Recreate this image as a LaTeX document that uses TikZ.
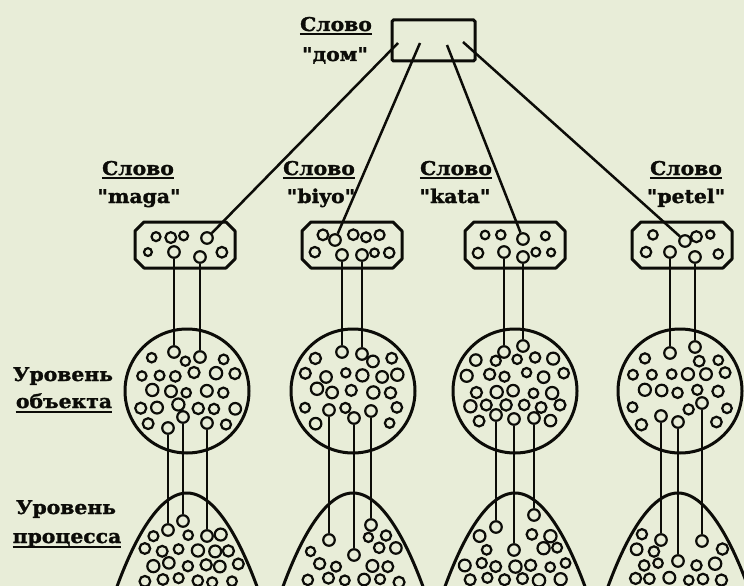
\documentclass[tikz,border=0pt]{standalone}
\usepackage{fontspec}
\newfontfamily\lbl{DejaVu Serif}[BoldFeatures={FakeBold=1.5,FakeStretch=1.07}]
\definecolor{bgc}{RGB}{232,237,216}
\definecolor{ink}{RGB}{12,12,8}
\newif\ifdotok
% one candidate dot: x, y, keep-out segments {x/ystart/yend,...}
\newcommand\trydot[3]{%
  \global\dotoktrue
  \foreach \sx/\sa/\sb in {#3}{%
    \pgfmathsetmacro\dkd{veclen(abs(#1-\sx),max(0,\sa-#2,#2-\sb))}%
    \ifdim\dkd pt<12pt \global\dotokfalse\fi
  }%
  \ifdotok
    \pgfmathsetmacro\dkr{\dotbase+rand*0.8}%
    \draw[dotline] (#1,#2) circle[radius=\dkr pt];
  \fi}
\newcommand\dotbase{5.4}
% field of dots in a circle: cx, cy, limit radius, segments
\newcommand\dotcircle[4]{%
  \foreach \j in {-4,...,4}{\foreach \i in {-4,...,4}{%
    \pgfmathsetmacro\dkx{#1+\i*18.5+isodd(\j)*9.25+rand*2.5}%
    \pgfmathsetmacro\dky{#2+\j*16+rand*2.5}%
    \pgfmathsetmacro\dkq{veclen(\dkx-#1,\dky-#2)}%
    \ifdim\dkq pt<#3pt \trydot{\dkx}{\dky}{#4}\fi
  }}}
% field of dots in a bell: cx, segments
\newcommand\dotbell[2]{%
  \foreach \j in {0,...,6}{\foreach \i in {-5,...,5}{%
    \pgfmathsetmacro\dkx{#1+\i*17.5+isodd(\j)*8.75+rand*2.5}%
    \pgfmathsetmacro\dky{505+\j*15+rand*2.5}%
    \pgfmathsetmacro\dkl{72*sqrt(max(\dky-493,0)/97)-10}%
    \pgfmathsetmacro\dko{abs(\dkx-#1)}%
    \ifdim\dko pt<\dkl pt \trydot{\dkx}{\dky}{#2}\fi
  }}}
% field of dots in a small box: cx, segments
\newcommand\dotbox[2]{%
  \foreach \j in {0,1}{\foreach \i in {-3,...,3}{%
    \pgfmathsetmacro\dkx{#1+\i*14.5+isodd(\j)*7.25+rand*1.5}%
    \pgfmathsetmacro\dky{236+\j*18+rand*2}%
    \pgfmathsetmacro\dko{abs(\dkx-#1)}%
    \ifdim\dko pt<40pt \trydot{\dkx}{\dky}{#2}\fi
  }}}
% chamfered outline round a named node
\newcommand\chamfer[1]{%
  \draw[shapeline,line join=round] ([xshift=9pt]#1.north west) -- ([xshift=-9pt]#1.north east)
    -- ([yshift=-9pt]#1.north east) -- ([yshift=9pt]#1.south east)
    -- ([xshift=-9pt]#1.south east) -- ([xshift=9pt]#1.south west)
    -- ([yshift=9pt]#1.south west) -- ([yshift=-9pt]#1.north west) -- cycle;}
\begin{document}
\begin{tikzpicture}[x=1pt,y=-1pt,
  dotline/.style={draw=ink,line width=2.2pt},
  enddot/.style={circle,draw=ink,line width=2.2pt,minimum size=11.5pt,inner sep=0pt},
  conn/.style={draw=ink,line width=2.5pt},
  shapeline/.style={draw=ink,line width=3pt},
  wordbox/.style={rectangle,minimum width=100pt,minimum height=46pt,inner sep=0pt,outer sep=0pt},
  objcirc/.style={circle,draw=ink,line width=3pt,minimum size=124pt,inner sep=0pt},
  lab/.style={font=\lbl\bfseries\fontsize{19}{21}\selectfont,text=ink,inner sep=0pt,anchor=base},
  ul/.style={draw=ink,line width=2.2pt}]
\useasboundingbox (0,0) rectangle (744,586);
\fill[bgc] (0,0) rectangle (744,586);
\clip (0,0) rectangle (744,586);
\pgfmathsetseed{4711}

% ---- top word
\node[draw=ink,line width=3pt,minimum width=83pt,minimum height=41pt,rounded corners=1.5pt] (top) at (433.5,40.5) {};
\node[lab] (ltop) at (336,31) {Слово};
\draw[ul] ([yshift=-3pt]ltop.base west) -- ([yshift=-3pt]ltop.base east);
\node[lab] (ldom) at (335,61) {"дом"};
\coordinate (t1) at (398,43);
\coordinate (t2) at (420,43);
\coordinate (t3) at (447,45);
\coordinate (t4) at (463,42);

% ---- word labels
\node[lab] (l1) at (138,175) {Слово};
\draw[ul] ([yshift=-3pt]l1.base west) -- ([yshift=-3pt]l1.base east);
\node[lab] (w1t) at (139,203) {"maga"};
\node[lab] (l2) at (319,175) {Слово};
\draw[ul] ([yshift=-3pt]l2.base west) -- ([yshift=-3pt]l2.base east);
\node[lab] (w2t) at (321,203) {"biyo"};
\node[lab] (l3) at (456,175) {Слово};
\draw[ul] ([yshift=-3pt]l3.base west) -- ([yshift=-3pt]l3.base east);
\node[lab] (w3t) at (455,203) {"kata"};
\node[lab] (l4) at (686,175) {Слово};
\draw[ul] ([yshift=-3pt]l4.base west) -- ([yshift=-3pt]l4.base east);
\node[lab] (w4t) at (686,203) {"petel"};

% ---- level labels
\node[lab] (lv1) at (63,381) {Уровень};
\node[lab] (lv1b) at (64,408) {объекта};
\draw[ul] ([yshift=-4pt]lv1b.base west) -- ([yshift=-4pt]lv1b.base east);
\node[lab] (lv2) at (66,514) {Уровень};
\node[lab] (lv2b) at (67,543) {процесса};
\draw[ul] ([yshift=-4pt]lv2b.base west) -- ([yshift=-4pt]lv2b.base east);

% ---- word boxes
\node[wordbox] (b1) at (185,245) {};
\node[wordbox] (b2) at (352,245) {};
\node[wordbox] (b3) at (515,245) {};
\node[wordbox] (b4) at (682,245) {};
\chamfer{b1}\chamfer{b2}\chamfer{b3}\chamfer{b4}
% ---- object circles
\node[objcirc] (o1) at (187,391) {};
\node[objcirc] (o2) at (353,391) {};
\node[objcirc] (o3) at (515,391) {};
\node[objcirc] (o4) at (680,391) {};
% ---- process bells
\draw[shapeline] (115,592) parabola bend (187,493) (259,592);
\draw[shapeline] (281,592) parabola bend (353,493) (425,592);
\draw[shapeline] (443,592) parabola bend (515,493) (587,592);
\draw[shapeline] (606,592) parabola bend (678,493) (750,592);

% ---- endpoint dots
% boxes
\node[enddot] (b1d) at (207,238) {};
\node[enddot] (b1a) at (174,252) {};
\node[enddot] (b1b) at (200,257) {};
\node[enddot] (b2d) at (335,240) {};
\node[enddot] (b2a) at (342,255) {};
\node[enddot] (b2b) at (362,255) {};
\node[enddot] (b3d) at (523,239) {};
\node[enddot] (b3a) at (504,252) {};
\node[enddot] (b3b) at (523,257) {};
\node[enddot] (b4d) at (685,241) {};
\node[enddot] (b4a) at (670,252) {};
\node[enddot] (b4b) at (695,257) {};
% circles, top
\node[enddot] (o1a) at (174,352) {};
\node[enddot] (o1b) at (200,357) {};
\node[enddot] (o2a) at (342,352) {};
\node[enddot] (o2b) at (362,354) {};
\node[enddot] (o3a) at (504,352) {};
\node[enddot] (o3b) at (523,346) {};
\node[enddot] (o4a) at (670,353) {};
\node[enddot] (o4b) at (695,347) {};
% circles, bottom
\node[enddot] (o1c) at (168,428) {};
\node[enddot] (o1d) at (183,417) {};
\node[enddot] (o1e) at (207,423) {};
\node[enddot] (o2c) at (329,410) {};
\node[enddot] (o2d) at (354,418) {};
\node[enddot] (o2e) at (371,411) {};
\node[enddot] (o3c) at (496,415) {};
\node[enddot] (o3d) at (514,419) {};
\node[enddot] (o3e) at (534,418) {};
\node[enddot] (o4c) at (661,416) {};
\node[enddot] (o4d) at (678,422) {};
\node[enddot] (o4e) at (702,403) {};
% bells
\node[enddot] (p1c) at (168,530) {};
\node[enddot] (p1d) at (183,521) {};
\node[enddot] (p1e) at (207,536) {};
\node[enddot] (p2c) at (329,540) {};
\node[enddot] (p2d) at (354,555) {};
\node[enddot] (p2e) at (371,525) {};
\node[enddot] (p3c) at (496,527) {};
\node[enddot] (p3d) at (514,550) {};
\node[enddot] (p3e) at (534,515) {};
\node[enddot] (p4c) at (661,540) {};
\node[enddot] (p4d) at (678,561) {};
\node[enddot] (p4e) at (702,541) {};

% ---- connectors
\draw[conn] (t1) -- (b1d);
\draw[conn] (t2) -- (b2d);
\draw[conn] (t3) -- (b3d);
\draw[conn] (t4) -- (b4d);
\draw[conn] (b1a) -- (o1a);  \draw[conn] (b1b) -- (o1b);
\draw[conn] (b2a) -- (o2a);  \draw[conn] (b2b) -- (o2b);
\draw[conn] (b3a) -- (o3a);  \draw[conn] (b3b) -- (o3b);
\draw[conn] (b4a) -- (o4a);  \draw[conn] (b4b) -- (o4b);
\draw[conn] (o1c) -- (p1c);  \draw[conn] (o1d) -- (p1d);  \draw[conn] (o1e) -- (p1e);
\draw[conn] (o2c) -- (p2c);  \draw[conn] (o2d) -- (p2d);  \draw[conn] (o2e) -- (p2e);
\draw[conn] (o3c) -- (p3c);  \draw[conn] (o3d) -- (p3d);  \draw[conn] (o3e) -- (p3e);
\draw[conn] (o4c) -- (p4c);  \draw[conn] (o4d) -- (p4d);  \draw[conn] (o4e) -- (p4e);

% ---- random dot fields
\renewcommand\dotbase{4.7}
\dotbox{185}{174/252/999, 200/257/999, 207/238/238, 216/229/229}
\dotbox{352}{342/255/999, 362/255/999, 335/240/240, 340/230/230}
\dotbox{515}{504/252/999, 523/239/999, 518/228/228}
\dotbox{682}{670/252/999, 695/257/999, 685/241/241, 676/232/232}
\renewcommand\dotbase{5.4}
\dotcircle{187}{391}{52}{174/0/352, 200/0/357, 168/428/999, 183/417/999, 207/423/999}
\dotcircle{353}{391}{52}{342/0/352, 362/0/354, 329/410/999, 354/418/999, 371/411/999}
\dotcircle{515}{391}{52}{504/0/352, 523/0/346, 496/415/999, 514/419/999, 534/418/999}
\dotcircle{680}{391}{52}{670/0/353, 695/0/347, 661/416/999, 678/422/999, 702/403/999}
\dotbell{187}{168/0/530, 183/0/521, 207/0/536}
\dotbell{353}{329/0/540, 354/0/555, 371/0/525}
\dotbell{515}{496/0/527, 514/0/550, 534/0/515}
\dotbell{678}{661/0/540, 678/0/561, 702/0/541}
\end{tikzpicture}
\end{document}
